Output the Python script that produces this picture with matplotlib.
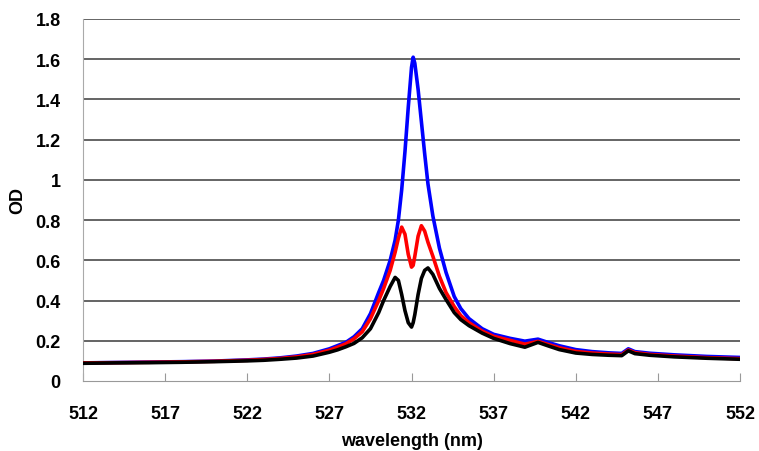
import matplotlib
matplotlib.use("Agg")
import matplotlib.pyplot as plt

# spectre d'absorption autour de 532 nm
wavelength = [512, 514, 516, 518, 520, 522, 523, 524, 525, 526, 527, 527.5,
              528, 528.5, 529, 529.5, 530, 530.3, 530.7, 531.0, 531.2, 531.4,
              531.6, 531.8, 532.0, 532.1, 532.2, 532.4, 532.6, 532.8, 533.0,
              533.3, 533.7, 534.1, 534.6, 535.0, 535.5, 536.3, 537.0, 538.0,
              538.9, 539.7, 540.3, 541.0, 542.0, 543.0, 544.0, 544.8, 545.2,
              545.6, 546.5, 548.0, 550.0, 552.0]

od_blue = [0.090, 0.092, 0.094, 0.096, 0.099, 0.105, 0.109, 0.115, 0.124,
           0.137, 0.160, 0.176, 0.192, 0.220, 0.260, 0.335, 0.440, 0.500,
           0.600, 0.700, 0.800, 0.950, 1.140, 1.360, 1.560, 1.610, 1.580,
           1.450, 1.290, 1.130, 0.980, 0.820, 0.660, 0.540, 0.420, 0.360,
           0.310, 0.260, 0.232, 0.212, 0.198, 0.208, 0.192, 0.175, 0.156,
           0.146, 0.140, 0.137, 0.160, 0.146, 0.138, 0.130, 0.122, 0.117]

od_red = [0.090, 0.091, 0.093, 0.095, 0.098, 0.103, 0.107, 0.112, 0.120,
          0.132, 0.153, 0.168, 0.185, 0.210, 0.245, 0.310, 0.400, 0.460,
          0.550, 0.640, 0.710, 0.765, 0.730, 0.630, 0.566, 0.575, 0.620,
          0.720, 0.772, 0.745, 0.690, 0.620, 0.520, 0.440, 0.370, 0.325,
          0.290, 0.248, 0.222, 0.202, 0.183, 0.197, 0.182, 0.165, 0.147,
          0.139, 0.134, 0.131, 0.154, 0.141, 0.132, 0.124, 0.116, 0.111]

od_black = [0.088, 0.090, 0.091, 0.093, 0.096, 0.100, 0.103, 0.108, 0.114,
            0.124, 0.143, 0.155, 0.170, 0.187, 0.215, 0.260, 0.340, 0.400,
            0.470, 0.515, 0.500, 0.430, 0.350, 0.290, 0.268, 0.290, 0.330,
            0.430, 0.510, 0.550, 0.562, 0.530, 0.460, 0.405, 0.340, 0.305,
            0.275, 0.238, 0.212, 0.186, 0.168, 0.192, 0.175, 0.156, 0.139,
            0.132, 0.128, 0.126, 0.150, 0.136, 0.128, 0.120, 0.113, 0.108]

x_ticks = [512, 517, 522, 527, 532, 537, 542, 547, 552]
y_ticks = [0, 0.2, 0.4, 0.6, 0.8, 1, 1.2, 1.4, 1.6, 1.8]
y_labels = ["0", "0.2", "0.4", "0.6", "0.8", "1", "1.2", "1.4", "1.6", "1.8"]

plt.rcParams['font.family'] = ['Liberation Sans', 'DejaVu Sans']

fig = plt.figure(figsize=(7.59, 4.52), dpi=100)
ax = fig.add_axes([0.1094, 0.1549, 0.8656, 0.8009])

# grille horizontale
for v in y_ticks[1:]:
    ax.axhline(v, color="#3a3a3a", lw=1.1, zorder=1)

ax.plot(wavelength, od_blue, color="#0000ff", lw=2.6, zorder=2)
ax.plot(wavelength, od_red, color="#ff0000", lw=2.6, zorder=3)
ax.plot(wavelength, od_black, color="#000000", lw=2.6, zorder=4)

ax.set_xlim(512, 552)
ax.set_ylim(0, 1.8)
ax.set_xticks(x_ticks)
ax.set_xticklabels([str(t) for t in x_ticks], fontsize=13, fontweight="bold")
ax.set_yticks(y_ticks)
ax.set_yticklabels(y_labels, fontsize=13, fontweight="bold")

ax.tick_params(axis="x", direction="in", length=6, color="#999999", pad=17)
ax.tick_params(axis="y", length=0, pad=16)

for s in ["top", "right"]:
    ax.spines[s].set_visible(False)
ax.spines["left"].set_color("#aaaaaa")
ax.spines["bottom"].set_color("#999999")
ax.spines["left"].set_linewidth(0.8)
ax.spines["bottom"].set_linewidth(0.8)

ax.set_xlabel("wavelength (nm)", fontsize=13, fontweight="bold")
ax.xaxis.set_label_coords(0.5, -0.14)
ax.set_ylabel("OD", fontsize=13, fontweight="bold", va="center")
ax.yaxis.set_label_coords(-0.099, 0.5)

fig.savefig("out.png", dpi=100)
